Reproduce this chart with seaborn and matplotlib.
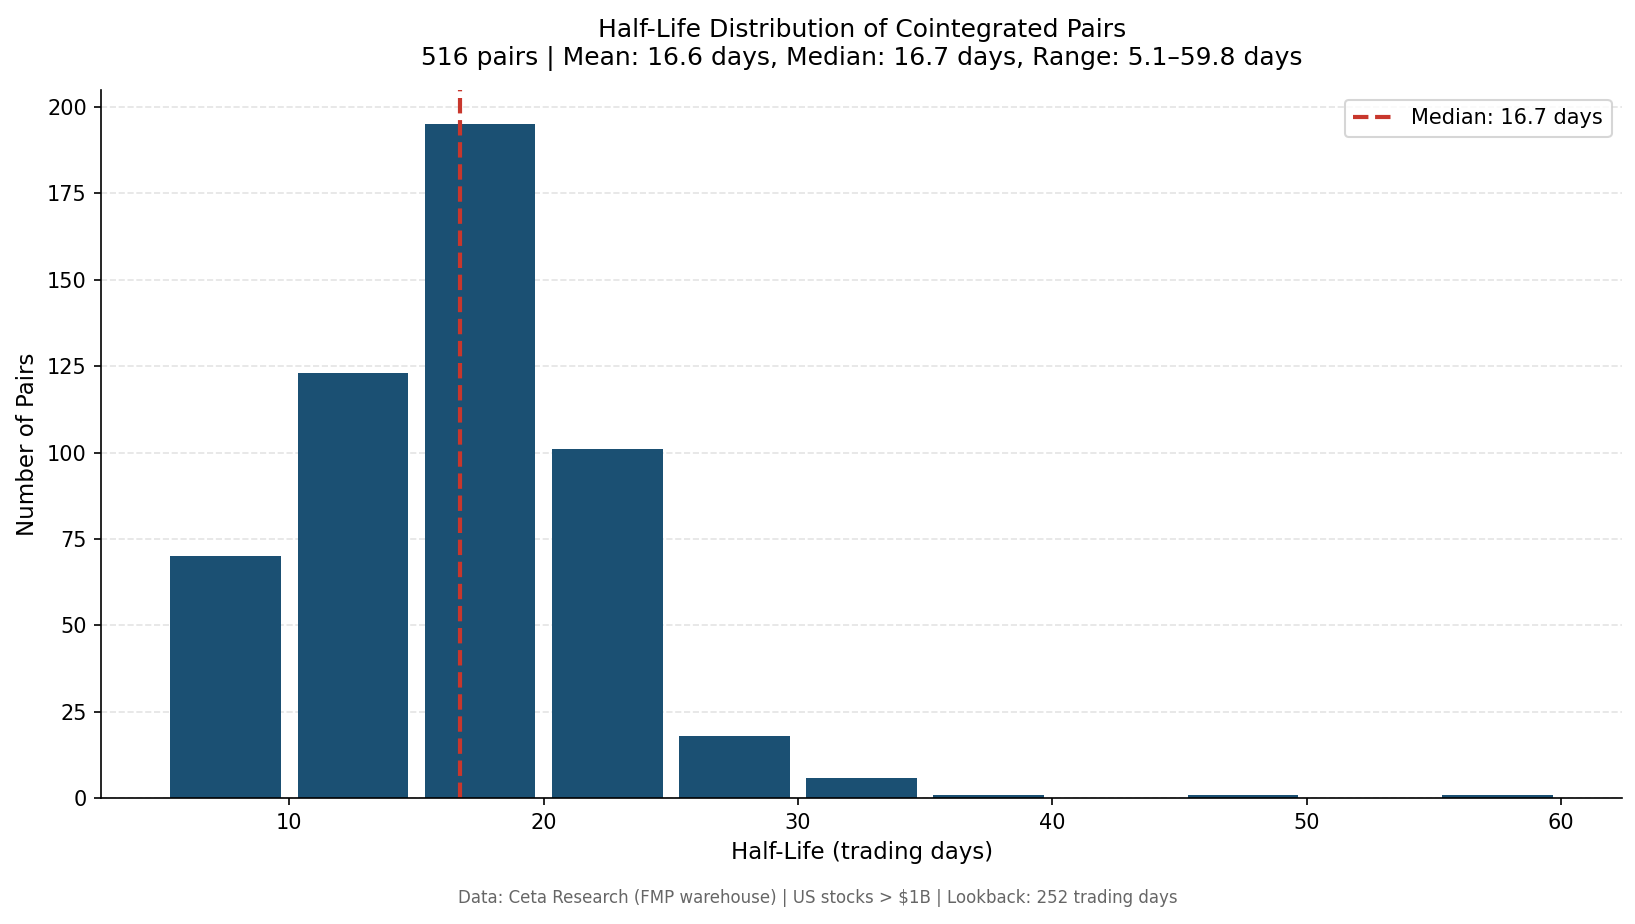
import numpy as np
import matplotlib
matplotlib.use("Agg")
import matplotlib.pyplot as plt
import seaborn as sns
import pandas as pd

# histogram bins (trading days) and counts
bin_edges = [5, 10, 15, 20, 25, 30, 35, 40, 45, 50, 55, 60]
counts = [70, 123, 195, 101, 18, 6, 1, 0, 1, 0, 1]
median_hl = 16.7

bin_mid = [(a + b) / 2 for a, b in zip(bin_edges[:-1], bin_edges[1:])]
df = pd.DataFrame({"half_life": bin_mid, "n": counts})

plt.rcParams['font.family'] = ['DejaVu Sans']

fig, ax = plt.subplots(figsize=(10.9, 6.16), dpi=150)
sns.histplot(data=df, x="half_life", weights="n", bins=bin_edges,
             shrink=0.87, color="#1b5073", alpha=1, linewidth=0, ax=ax)
ax.axvline(median_hl, color="#c8372d", linestyle="--", linewidth=2,
           label=f"Median: {median_hl} days")

ax.set_xlim(2.61, 62.4)
ax.set_ylim(0, 205)
ax.grid(axis="y", linestyle="--", color="#dddddd", alpha=0.8, linewidth=0.8)
ax.set_axisbelow(True)
sns.despine(ax=ax)
ax.tick_params(axis="both", labelsize=10)

ax.set_xlabel("Half-Life (trading days)", fontsize=11)
ax.set_ylabel("Number of Pairs", fontsize=11)
ax.set_title("Half-Life Distribution of Cointegrated Pairs\n"
             "516 pairs | Mean: 16.6 days, Median: 16.7 days, Range: 5.1\u201359.8 days",
             fontsize=12, pad=12)
ax.legend(loc="upper right", fontsize=10, frameon=True)

fig.text(0.5, 0.028, "Data: Ceta Research (FMP warehouse) | US stocks > $1B | Lookback: 252 trading days",
         ha="center", va="center", fontsize=8, color="#666666")

fig.subplots_adjust(left=0.062, right=0.992, top=0.903, bottom=0.136)
fig.savefig("out.png", dpi=150)
